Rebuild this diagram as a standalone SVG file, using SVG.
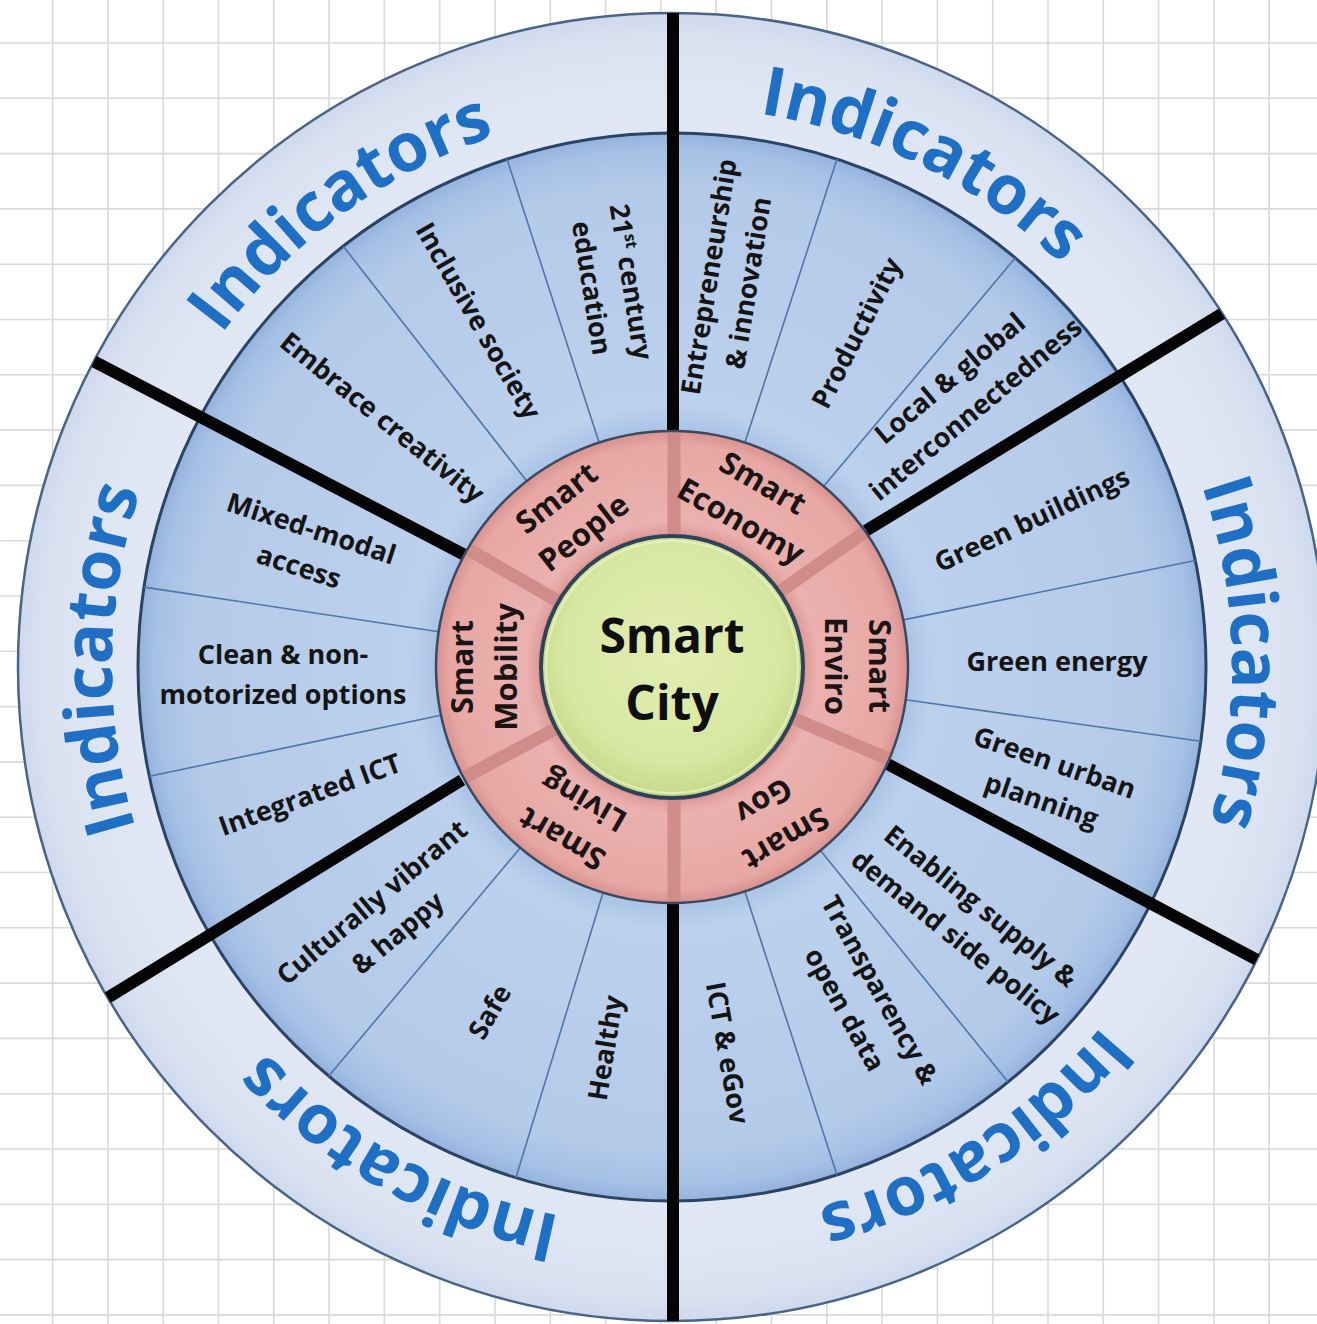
<svg xmlns="http://www.w3.org/2000/svg" width="1317" height="1324" viewBox="0 0 1317 1324">
<defs>
  <radialGradient id="gOuter" gradientUnits="userSpaceOnUse" cx="672" cy="667" r="655">
    <stop offset="0.8" stop-color="#e2e8f5"/>
    <stop offset="0.96" stop-color="#dae2f1"/>
    <stop offset="1" stop-color="#cfd9ed"/>
  </radialGradient>
  <radialGradient id="gBlue" gradientUnits="userSpaceOnUse" cx="672" cy="667" r="534">
    <stop offset="0.44" stop-color="#a9c2e5"/>
    <stop offset="0.49" stop-color="#bcd1ed"/>
    <stop offset="0.9" stop-color="#b4cae9"/>
    <stop offset="0.97" stop-color="#a5c0e5"/>
    <stop offset="1" stop-color="#94b2dd"/>
  </radialGradient>
  <radialGradient id="gPink" gradientUnits="userSpaceOnUse" cx="672" cy="667" r="236">
    <stop offset="0.55" stop-color="#dc9794"/>
    <stop offset="0.62" stop-color="#eab1ae"/>
    <stop offset="0.94" stop-color="#e7a8a5"/>
    <stop offset="1" stop-color="#d8928f"/>
  </radialGradient>
  <radialGradient id="gGreen" cx="0.5" cy="0.45" r="0.55">
    <stop offset="0" stop-color="#e2edb2"/>
    <stop offset="0.75" stop-color="#d8e7a1"/>
    <stop offset="1" stop-color="#c4d888"/>
  </radialGradient>
  <clipPath id="clipWheel"><circle cx="672" cy="667" r="654"/></clipPath>
  <path id="arcTL" d="M118.9,579.4 A560,560 0 0 1 759.6,113.9"/>
  <path id="arcTR" d="M494.3,135.9 A560,560 0 0 1 1203.1,489.3"/>
  <path id="arcR" d="M1058.2,261.5 A560,560 0 0 1 1077.5,1053.2"/>
  <path id="arcBR" d="M1218.9,787.3 A560,560 0 0 1 551.7,1213.9"/>
  <path id="arcBL" d="M826.4,1205.3 A560,560 0 0 1 133.7,821.4"/>
  <path id="arcL" d="M270.5,1057.4 A560,560 0 0 1 281.6,265.5"/>
</defs>
<style>
  .grid { stroke: #d9d9d9; stroke-width: 1.6; fill: none; }
  .ind { font-family: "Open Sans", "Liberation Sans", sans-serif; font-weight: 700; font-size: 68px; fill: #1f6fc4; text-anchor: middle; }
  .lbl { font-family: "Open Sans", "Liberation Sans", sans-serif; font-weight: 700; font-size: 27px; fill: #141414; text-anchor: middle; }
  .pil { font-family: "Open Sans", "Liberation Sans", sans-serif; font-weight: 700; font-size: 31px; fill: #1a1414; text-anchor: middle; }
  .ctr { font-family: "Open Sans", "Liberation Sans", sans-serif; font-weight: 700; font-size: 48px; fill: #0e0e0e; text-anchor: middle; }
  .thin { stroke: #4f75a9; stroke-width: 1.6; fill: none; }
  .black { stroke: #050505; stroke-width: 12; fill: none; }
  .pdiv { stroke: #d08c89; stroke-width: 13; fill: none; }
</style>

<rect x="0" y="0" width="1317" height="1324" fill="#ffffff"/>
<path class="grid" d="M52.6 0V1324M107.9 0V1324M163.2 0V1324M218.5 0V1324M273.8 0V1324M329.1 0V1324M384.4 0V1324M439.7 0V1324M495 0V1324M550.3 0V1324M605.6 0V1324M660.9 0V1324M716.2 0V1324M771.5 0V1324M826.8 0V1324M882.1 0V1324M937.4 0V1324M992.7 0V1324M1048 0V1324M1103.3 0V1324M1158.6 0V1324M1213.9 0V1324M1269.2 0V1324M0 43H1317M0 98.3H1317M0 153.6H1317M0 208.9H1317M0 264.2H1317M0 319.5H1317M0 374.8H1317M0 430.1H1317M0 485.4H1317M0 540.7H1317M0 596H1317M0 651.3H1317M0 706.6H1317M0 761.9H1317M0 817.2H1317M0 872.5H1317M0 927.8H1317M0 983.1H1317M0 1038.4H1317M0 1093.7H1317M0 1149H1317M0 1204.3H1317M0 1259.6H1317M0 1314.9H1317"/>

<g id="wheel">
  <circle cx="672" cy="667" r="654" fill="url(#gOuter)" stroke="#4a6488" stroke-width="2.5"/>
  <circle cx="672" cy="667" r="534" fill="url(#gBlue)" stroke="#2b4466" stroke-width="3"/>
</g>

<g id="connectors">
  <g id="sub-dividers">
    <line class="thin" x1="526.7" y1="481.0" x2="343.2" y2="246.2"/>
    <line class="thin" x1="599.1" y1="442.6" x2="507.0" y2="159.1"/>
    <line class="thin" x1="744.9" y1="442.6" x2="837.0" y2="159.1"/>
    <line class="thin" x1="823.7" y1="486.2" x2="1015.2" y2="257.9"/>
    <line class="thin" x1="903.3" y1="619.9" x2="1195.3" y2="560.5"/>
    <line class="thin" x1="905.7" y1="699.8" x2="1200.8" y2="741.3"/>
    <line class="thin" x1="820.5" y1="850.4" x2="1008.1" y2="1082.0"/>
    <line class="thin" x1="744.9" y1="891.4" x2="837.0" y2="1174.9"/>
    <line class="thin" x1="520.3" y1="847.8" x2="328.8" y2="1076.1"/>
    <line class="thin" x1="603.0" y1="892.7" x2="515.9" y2="1177.7"/>
    <line class="thin" x1="438.7" y1="631.7" x2="144.0" y2="587.1"/>
    <line class="thin" x1="441.0" y1="715.3" x2="149.3" y2="776.2"/>
  </g>
  <g id="sector-dividers" clip-path="url(#clipWheel)">
    <line class="black" x1="673" y1="0" x2="673" y2="440"/>
    <line class="black" x1="673" y1="895" x2="673" y2="1324"/>
    <line class="black" x1="90" y1="359.4" x2="465" y2="555.1"/>
    <line class="black" x1="105" y1="999.3" x2="462" y2="780"/>
    <line class="black" x1="1236" y1="305.1" x2="866" y2="530.7"/>
    <line class="black" x1="1271" y1="967.2" x2="888" y2="764.3"/>
  </g>
</g>

<g id="pillar-ring">
  <circle cx="672" cy="667" r="236" fill="url(#gPink)" stroke="#3a4860" stroke-width="2.5"/>
  <line class="pdiv" x1="674" y1="538" x2="674" y2="433"/>
  <line class="pdiv" x1="558.6" y1="601.5" x2="469.3" y2="550"/>
  <line class="pdiv" x1="779.3" y1="591.9" x2="863.6" y2="532.8"/>
  <line class="pdiv" x1="556.3" y1="728.5" x2="465.4" y2="776.9"/>
  <line class="pdiv" x1="792.6" y1="718.2" x2="887.3" y2="758.4"/>
  <line class="pdiv" x1="674" y1="796" x2="674" y2="901"/>
</g>

<g id="smart-city">
  <circle cx="672" cy="667" r="134" fill="#c98e8c" opacity="0.5"/>
  <circle cx="672" cy="667" r="131" fill="url(#gGreen)" stroke="#2e4358" stroke-width="4"/>
  <circle cx="672" cy="667" r="126" fill="none" stroke="#eef5cf" stroke-width="2" opacity="0.7"/>
  <text class="ctr" x="672" y="653">Smart</text>
  <text class="ctr" x="672" y="720">City</text>
</g>

<g id="pillar-people" transform="translate(570,515) rotate(-38)"><text class="pil"><tspan x="0" y="-11">Smart</tspan><tspan x="0" y="33">People</tspan></text></g>
<g id="pillar-economy" transform="translate(752,502) rotate(30)"><text class="pil"><tspan x="0" y="-11">Smart</tspan><tspan x="0" y="33">Economy</tspan></text></g>
<g id="pillar-enviro" transform="translate(858,666) rotate(90)"><text class="pil"><tspan x="0" y="-11">Smart</tspan><tspan x="0" y="33">Enviro</tspan></text></g>
<g id="pillar-gov" transform="translate(775,820) rotate(150)"><text class="pil"><tspan x="0" y="-11">Smart</tspan><tspan x="0" y="33">Gov</tspan></text></g>
<g id="pillar-living" transform="translate(573,820) rotate(210)"><text class="pil"><tspan x="0" y="-11">Smart</tspan><tspan x="0" y="33">Living</tspan></text></g>
<g id="pillar-mobility" transform="translate(484,667) rotate(-90)"><text class="pil"><tspan x="0" y="-11">Smart</tspan><tspan x="0" y="33">Mobility</tspan></text></g>

<g id="ind-embrace" transform="translate(382,418) rotate(39)"><text class="lbl" x="0" y="9">Embrace creativity</text></g>
<g id="ind-inclusive" transform="translate(478,321) rotate(60)"><text class="lbl" x="0" y="9">Inclusive society</text></g>
<g id="ind-education" transform="translate(611,285) rotate(81)"><text class="lbl"><tspan x="0" y="-11">21<tspan font-size="16" dy="-10">st</tspan><tspan dy="10"> century</tspan></tspan><tspan x="0" y="29">education</tspan></text></g>
<g id="ind-entrepreneurship" transform="translate(729,280) rotate(-81)"><text class="lbl"><tspan x="0" y="-11">Entrepreneurship</tspan><tspan x="0" y="29">&amp; innovation</tspan></text></g>
<g id="ind-productivity" transform="translate(857,333) rotate(-63)"><text class="lbl" x="0" y="9">Productivity</text></g>
<g id="ind-connectedness" transform="translate(963,394) rotate(-40)"><text class="lbl"><tspan x="0" y="-11">Local &amp; global</tspan><tspan x="0" y="29">interconnectedness</tspan></text></g>
<g id="ind-green-buildings" transform="translate(1032,520) rotate(-25)"><text class="lbl" x="0" y="9">Green buildings</text></g>
<g id="ind-green-energy" transform="translate(1057,662)"><text class="lbl" x="0" y="9">Green energy</text></g>
<g id="ind-green-planning" transform="translate(1048,782) rotate(19)"><text class="lbl"><tspan x="0" y="-11">Green urban</tspan><tspan x="0" y="29">planning</tspan></text></g>
<g id="ind-enabling" transform="translate(968,922) rotate(39)"><text class="lbl"><tspan x="0" y="-11">Enabling supply &amp;</tspan><tspan x="0" y="29">demand side policy</tspan></text></g>
<g id="ind-transparency" transform="translate(862,1000) rotate(61)"><text class="lbl"><tspan x="0" y="-11">Transparency &amp;</tspan><tspan x="0" y="29">open data</tspan></text></g>
<g id="ind-egov" transform="translate(727,1053) rotate(80)"><text class="lbl" x="0" y="9">ICT &amp; eGov</text></g>
<g id="ind-cultural" transform="translate(385,918) rotate(-40)"><text class="lbl"><tspan x="0" y="-11">Culturally vibrant</tspan><tspan x="0" y="29">&amp; happy</tspan></text></g>
<g id="ind-safe" transform="translate(490,1012) rotate(-60)"><text class="lbl" x="0" y="9">Safe</text></g>
<g id="ind-healthy" transform="translate(606,1048) rotate(-81)"><text class="lbl" x="0" y="9">Healthy</text></g>
<g id="ind-mixed-modal" transform="translate(305,548) rotate(18)"><text class="lbl"><tspan x="0" y="-11">Mixed-modal</tspan><tspan x="0" y="29">access</tspan></text></g>
<g id="ind-clean" transform="translate(283,675)"><text class="lbl"><tspan x="0" y="-11">Clean &amp; non-</tspan><tspan x="0" y="29">motorized options</tspan></text></g>
<g id="ind-integrated-ict" transform="translate(310,795) rotate(-20)"><text class="lbl" x="0" y="9">Integrated ICT</text></g>

<g id="indicators-people"><text class="ind"><textPath href="#arcTL" startOffset="50%">Indicators</textPath></text></g>
<g id="indicators-economy"><text class="ind"><textPath href="#arcTR" startOffset="50%">Indicators</textPath></text></g>
<g id="indicators-enviro"><text class="ind"><textPath href="#arcR" startOffset="50%">Indicators</textPath></text></g>
<g id="indicators-gov"><text class="ind"><textPath href="#arcBR" startOffset="50%">Indicators</textPath></text></g>
<g id="indicators-living"><text class="ind"><textPath href="#arcBL" startOffset="50%">Indicators</textPath></text></g>
<g id="indicators-mobility"><text class="ind"><textPath href="#arcL" startOffset="50%">Indicators</textPath></text></g>
</svg>
